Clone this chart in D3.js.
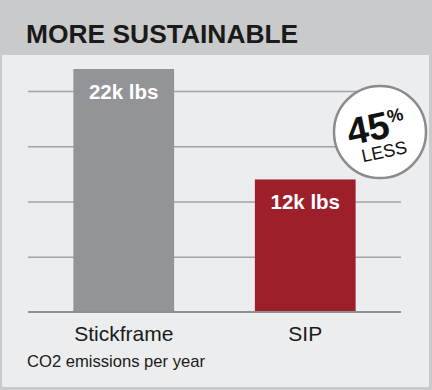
<!DOCTYPE html>
<html>
<head>
<meta charset="utf-8">
<script src="https://cdn.jsdelivr.net/npm/d3@7"></script>
<style>
  body { margin: 0; background: #c9cacc; }
  svg { display: block; font-family: "Liberation Sans", Arial, sans-serif; }
</style>
</head>
<body>
<div id="chart"></div>
<script>
// chart data
var categories = ["Stickframe", "SIP"];
var values = [22, 12];          // thousand lbs CO2 per year
var valueLabels = ["22k lbs", "12k lbs"];
var gridValues = [5, 10, 15, 20];
var title = "MORE SUSTAINABLE";
var note = "CO2 emissions per year";
var badgeBig = "45";
var badgeSmall = "LESS";

var svgWidth = 432;
var svgHeight = 390;

var svg = d3.select("#chart")
  .append("svg")
  .attr("width", svgWidth)
  .attr("height", svgHeight);

// header background + inner panel
svg.append("rect")
  .attr("width", svgWidth)
  .attr("height", svgHeight)
  .attr("fill", "#c9cacc");

svg.append("rect")
  .attr("x", 2)
  .attr("y", 55)
  .attr("width", 427)
  .attr("height", 332)
  .attr("fill", "#ecedef");

svg.append("text")
  .attr("x", 26)
  .attr("y", 43)
  .attr("font-size", 26.4)
  .attr("font-weight", "bold")
  .attr("fill", "#1a1a1a")
  .text(title);

// scales
var xScale = d3.scaleBand()
  .domain(categories)
  .range([28, 401])
  .paddingInner(0.445)
  .paddingOuter(0.25);

var yScale = d3.scaleLinear()
  .domain([0, 22])
  .range([312, 69]);

// grid lines from a left axis with long ticks
var grid = svg.append("g")
  .attr("transform", "translate(28,0)")
  .call(d3.axisLeft(yScale)
    .tickValues(gridValues)
    .tickSize(-373)
    .tickFormat(""));
grid.select(".domain").remove();
grid.selectAll("line")
  .attr("stroke", "#a2a3a6")
  .attr("stroke-width", 1.5);

// bars
var barColors = ["#939498", "#9c1f2a"];
svg.selectAll(".bar")
  .data(values)
  .enter()
  .append("rect")
  .attr("class", "bar")
  .attr("x", (d, i) => xScale(categories[i]))
  .attr("y", d => yScale(d))
  .attr("width", xScale.bandwidth())
  .attr("height", d => yScale(0) - yScale(d))
  .attr("fill", (d, i) => barColors[i]);

// baseline
svg.append("line")
  .attr("x1", 28)
  .attr("x2", 401)
  .attr("y1", yScale(0))
  .attr("y2", yScale(0))
  .attr("stroke", "#8e8f92")
  .attr("stroke-width", 2);

// value labels inside bars
svg.selectAll(".val")
  .data(values)
  .enter()
  .append("text")
  .attr("class", "val")
  .attr("x", (d, i) => xScale(categories[i]) + xScale.bandwidth() / 2)
  .attr("y", d => yScale(d) + 30)
  .attr("text-anchor", "middle")
  .attr("font-size", 20.5)
  .attr("font-weight", "bold")
  .attr("fill", "#ffffff")
  .text((d, i) => valueLabels[i]);

// category labels
var bottomAxis = svg.append("g")
  .attr("transform", `translate(0, ${yScale(0)})`)
  .call(d3.axisBottom(xScale).tickSize(0).tickPadding(14));
bottomAxis.select(".domain").remove();
bottomAxis.selectAll("text")
  .attr("font-size", 21)
  .attr("font-family", "Liberation Sans, Arial, sans-serif")
  .attr("fill", "#1a1a1a");

svg.append("text")
  .attr("x", 27)
  .attr("y", 367)
  .attr("font-size", 16.6)
  .attr("fill", "#1a1a1a")
  .text(note);

// "45% LESS" badge
var badge = svg.append("g")
  .attr("transform", "translate(380,132)");
badge.append("circle")
  .attr("r", 46)
  .attr("fill", "#ffffff")
  .attr("stroke", "#8a8b8e")
  .attr("stroke-width", 2.5);
var badgeText = badge.append("g")
  .attr("transform", "rotate(-12)");
var big = badgeText.append("text")
  .attr("x", -3)
  .attr("y", 7)
  .attr("text-anchor", "middle")
  .attr("font-size", 38)
  .attr("font-weight", "bold")
  .attr("fill", "#111");
big.append("tspan").text(badgeBig);
big.append("tspan")
  .attr("font-size", 18)
  .attr("dy", -14)
  .text("%");
badgeText.append("text")
  .attr("x", 0)
  .attr("y", 26)
  .attr("text-anchor", "middle")
  .attr("font-size", 18)
  .attr("fill", "#111")
  .text(badgeSmall);
</script>
</body>
</html>
